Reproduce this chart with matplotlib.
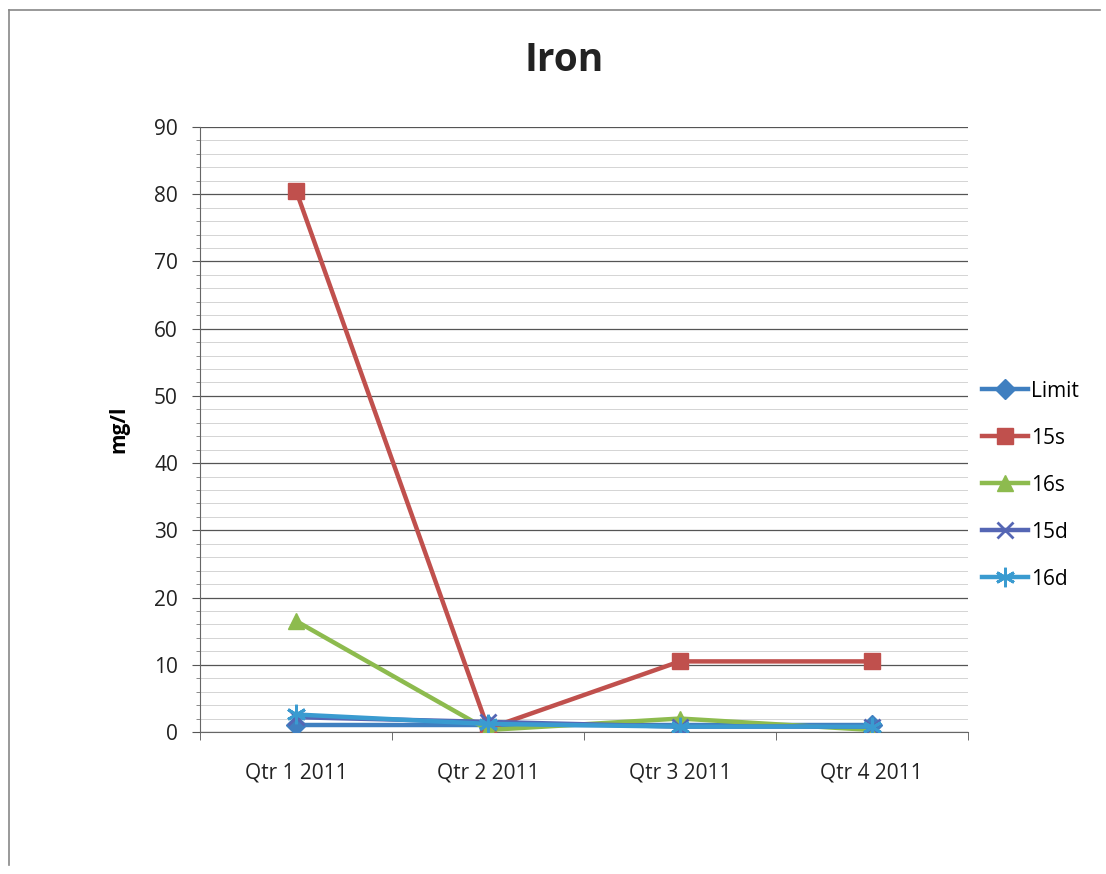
import matplotlib
matplotlib.use("Agg")
import matplotlib.pyplot as plt
from matplotlib.lines import Line2D
from matplotlib.ticker import MultipleLocator, FixedLocator

plt.rcParams['font.family'] = ['Open Sans', 'DejaVu Sans']

quarters = ["Qtr 1 2011", "Qtr 2 2011", "Qtr 3 2011", "Qtr 4 2011"]
limit = [1.0, 1.0, 1.0, 1.0]
s15 = [80.5, 0.5, 10.5, 10.5]
s16 = [16.5, 0.3, 2.0, 0.3]
d15 = [2.2, 1.5, 0.8, 0.8]
d16 = [2.6, 1.2, 0.8, 0.8]

series = [
    ("Limit", limit, "#3F7FC0", "D", 10),
    ("15s", s15, "#C0504D", "s", 12),
    ("16s", s16, "#8DBB4E", "^", 12),
    ("15d", d15, "#5566B4", "x", 12),
    ("16d", d16, "#3A9BD0", (6, 2, 0), 14),
]

fig = plt.figure(figsize=(11.06, 8.74), dpi=100)
# page frame lines along the top and left edge
fig.add_artist(Line2D([0.008, 0.995], [0.989, 0.989], transform=fig.transFigure,
                      color="#888888", linewidth=1.2))
fig.add_artist(Line2D([0.008, 0.008], [0.01, 0.989], transform=fig.transFigure,
                      color="#888888", linewidth=1.2))
ax = fig.add_axes([0.181, 0.1625, 0.694, 0.6922])

x = list(range(len(quarters)))
for name, vals, color, marker, ms in series:
    ax.plot(x, vals, color=color, linewidth=3.2, marker=marker, markersize=ms,
            markeredgewidth=2 if marker in ("x", (6, 2, 0)) else 1,
            markeredgecolor=color, markerfacecolor=color, label=name, zorder=3)

ax.set_xlim(-0.5, 3.5)
ax.set_ylim(0, 90)
ax.yaxis.set_major_locator(MultipleLocator(10))
ax.yaxis.set_minor_locator(MultipleLocator(2))
ax.grid(axis="y", which="major", color="#555555", linewidth=0.9)
ax.grid(axis="y", which="minor", color="#d4d4d4", linewidth=0.7)
ax.set_axisbelow(True)

ax.xaxis.set_major_locator(FixedLocator(x))
ax.set_xticklabels(quarters)
ax.xaxis.set_minor_locator(FixedLocator([-0.5, 0.5, 1.5, 2.5, 3.5]))
ax.tick_params(axis="x", which="major", length=0, pad=22, labelsize=15, labelcolor="#222222")
ax.tick_params(axis="x", which="minor", length=6, color="#555555")
ax.tick_params(axis="y", which="major", length=6, color="#555555", labelsize=15,
               labelcolor="#222222", pad=10)
ax.tick_params(axis="y", which="minor", length=3, color="#777777")

for side in ("top", "right"):
    ax.spines[side].set_visible(False)
ax.spines["left"].set_color("#666666")
ax.spines["bottom"].set_color("#666666")

ax.set_ylabel("mg/l", fontsize=15, fontweight="bold", labelpad=18)
fig.text(0.51, 0.931, "Iron", ha="center", va="center", fontsize=28, fontweight="bold",
         color="#222222")

ax.legend(loc="center left", bbox_to_anchor=(1.0, 0.408), frameon=False, fontsize=15,
          labelspacing=1.25, handlelength=2.2, handletextpad=0.15, borderaxespad=0.3)

fig.savefig("out.png", dpi=100)
